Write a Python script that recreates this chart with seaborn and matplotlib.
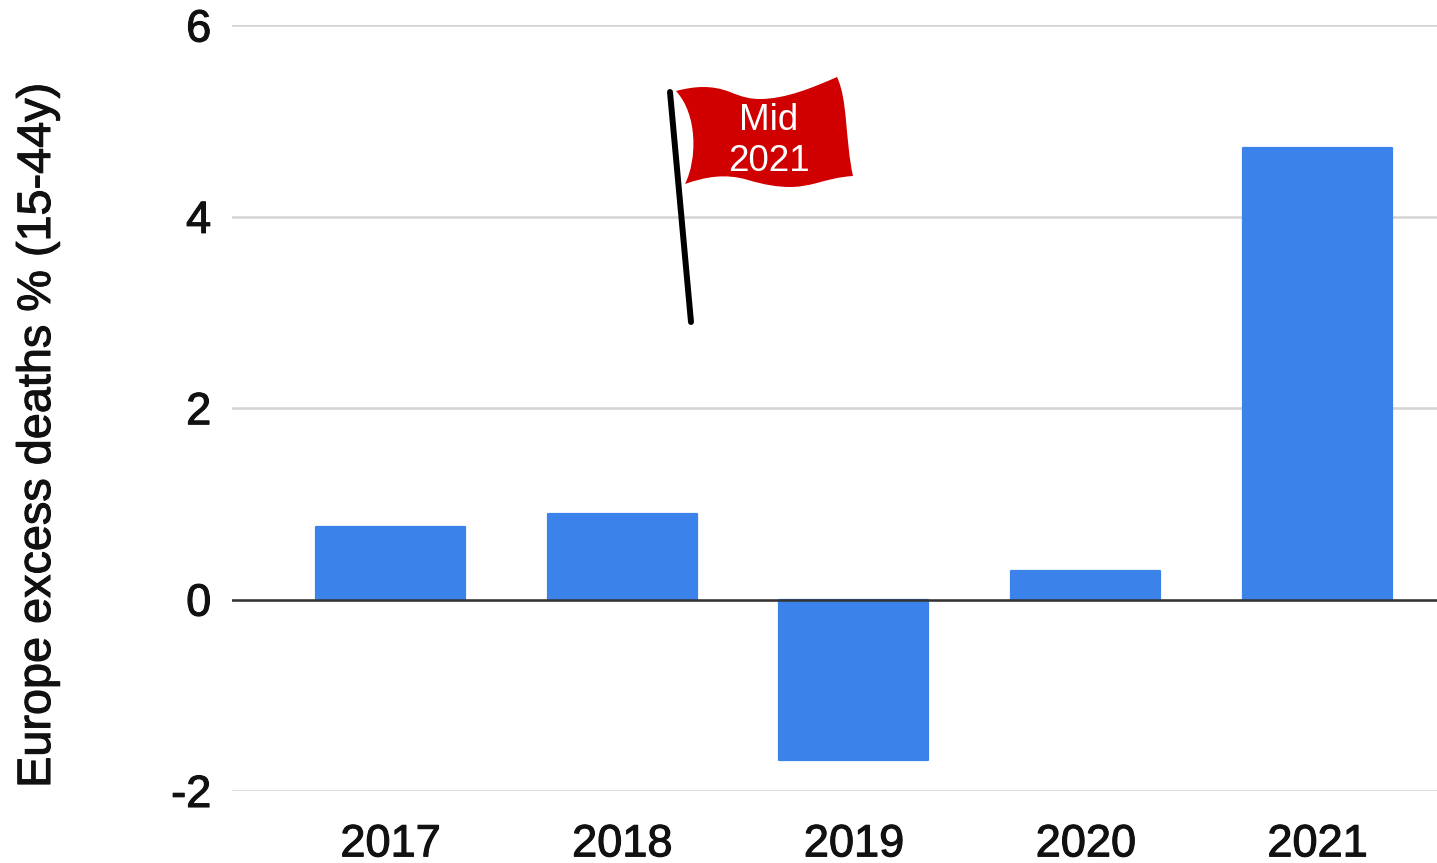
import numpy as np
import pandas as pd
import matplotlib
matplotlib.use("Agg")
import matplotlib.pyplot as plt
import matplotlib.patheffects as pe
from matplotlib.path import Path
from matplotlib.patches import PathPatch
import seaborn as sns

years = ["2017", "2018", "2019", "2020", "2021"]
excess = [0.76, 0.90, -1.68, 0.30, 4.72]
yticks = [-2, 0, 2, 4, 6]
ylabel = "Europe excess deaths % (15-44y)"
flag_text = "Mid\n2021"

sns.set_theme(style="white")
plt.rcParams["font.family"] = ["Liberation Sans", "DejaVu Sans"]

W, H = 1437, 863
fig = plt.figure(figsize=(W / 100, H / 100), dpi=100)
x0, x1 = 232, 1437
y6, ym2 = 25.5, 791
ax = fig.add_axes([x0 / W, 1 - ym2 / H, (x1 - x0) / W, (ym2 - y6) / H])

BAR = "#3b83eb"
df = pd.DataFrame({"year": years, "excess": excess})
sns.barplot(data=df, x="year", y="excess", color=BAR, saturation=1, width=0.643, ax=ax, zorder=3)
for bar in ax.patches:
    bar.set_edgecolor(BAR)
    bar.set_linewidth(1.6)
    bar.set_joinstyle("round")
ax.set_xlim(-0.684, 4.516)
ax.set_ylim(-2, 6)
ax.set_yticks(yticks)
ax.set_yticklabels([str(v) for v in yticks])
ax.set_xlabel("")
ax.set_ylabel(ylabel, fontsize=33.7, color="#111111")
ax.yaxis.set_label_coords(-172 / (x1 - x0), 0.464)
ax.grid(axis="y", color="#d4d4d4", lw=1.8, zorder=0)
ax.axhline(0, color="#333333", lw=1.8, zorder=4)
for s in ax.spines.values():
    s.set_visible(False)
ax.tick_params(axis="y", length=0, labelsize=32.5, labelcolor="#111111", pad=15)
ax.tick_params(axis="x", length=0, labelsize=32.5, labelcolor="#111111", pad=24)

# slightly heavier text, as in the reference
stroke = [pe.withStroke(linewidth=0.8, foreground="#111111")]
for t in ax.get_xticklabels() + ax.get_yticklabels() + [ax.yaxis.label]:
    t.set_path_effects(stroke)

# Flag overlay, in figure pixel coordinates (y downward)
ov = fig.add_axes([0, 0, 1, 1], zorder=10)
ov.set_xlim(0, W)
ov.set_ylim(H, 0)
ov.axis("off")
ov.plot([670, 691], [92, 322], color="black", lw=4.3, solid_capstyle="round")
verts = [(676, 91),
         (695, 86), (712, 85), (730, 92),
         (742, 97), (750, 99), (760, 99),
         (785, 99), (812, 88), (837, 77),
         (848, 100), (845, 140), (853, 176),
         (838, 177), (828, 180), (817, 183),
         (805, 186), (798, 187), (790, 187),
         (778, 187), (765, 185), (748, 180),
         (725, 173), (705, 177), (685, 184),
         (697, 160), (698, 115), (676, 91)]
codes = [Path.MOVETO] + [Path.CURVE4] * 27
ov.add_patch(PathPatch(Path(verts, codes), facecolor="#d00000", edgecolor="none"))
ov.text(768.5, 141, flag_text, color="white", fontsize=26.5, ha="center", va="center", linespacing=1.22)

fig.savefig("out.png", dpi=100)
